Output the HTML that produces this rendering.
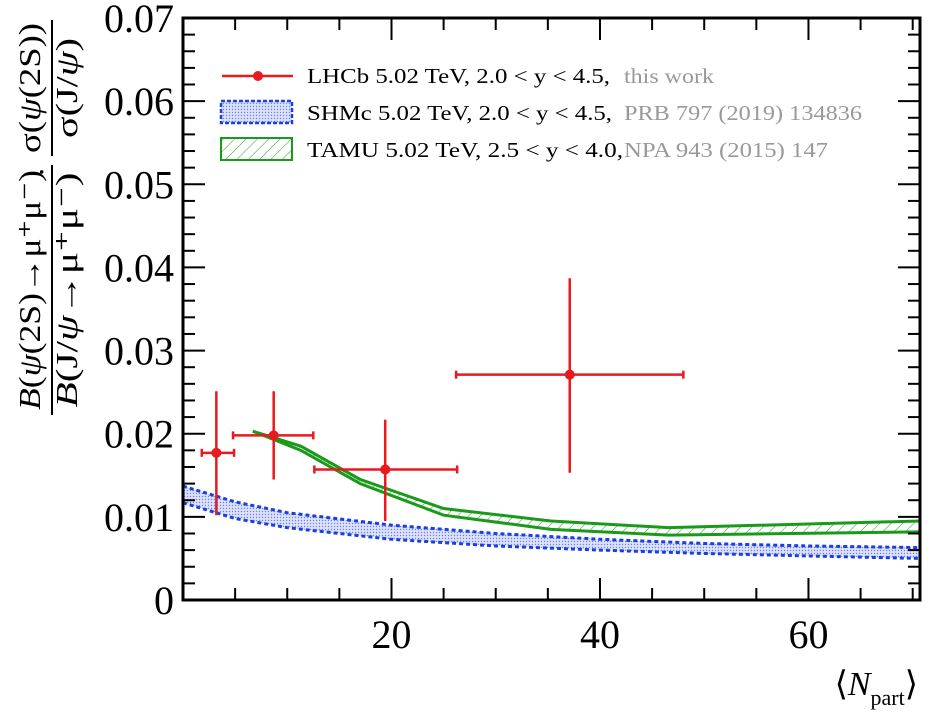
<!DOCTYPE html>
<html><head><meta charset="utf-8"><style>
html,body{margin:0;padding:0;background:#fff;}
svg{display:block;font-family:"Liberation Serif",serif;}
</style></head><body>
<svg id="chart" width="936" height="716" viewBox="0 0 936 716">
<defs>
<pattern id="dots" width="3" height="3" patternUnits="userSpaceOnUse"><rect width="3" height="3" fill="#dde3fb"/><circle cx="1.5" cy="1.5" r="0.7" fill="#6c80ee"/></pattern>
<pattern id="hatch" width="8" height="8" patternUnits="userSpaceOnUse" patternTransform="rotate(45)"><line x1="0" y1="0" x2="0" y2="8" stroke="#2a9a2a" stroke-width="1"/></pattern>
<clipPath id="plotclip"><rect x="183" y="18" width="737" height="582"/></clipPath>
</defs>
<g id="bands" clip-path="url(#plotclip)"></g>
<g id="marks"></g>
<g id="axes"></g>
<g font-size="21">
  <line x1="222" y1="76" x2="293" y2="76" stroke="#e8191f" stroke-width="2.5"/>
  <circle cx="258" cy="76" r="5" fill="#e8191f"/>
  <text x="307" y="83" textLength="303" lengthAdjust="spacingAndGlyphs">LHCb 5.02 TeV, 2.0 &lt; y &lt; 4.5,</text>
  <text x="624" y="83" textLength="90" lengthAdjust="spacingAndGlyphs" fill="#999">this work</text>
  <rect x="221" y="101" width="71" height="22" fill="url(#dots)" stroke="#1a3ee0" stroke-width="2.5" stroke-dasharray="4,2"/>
  <text x="307" y="120" textLength="305" lengthAdjust="spacingAndGlyphs">SHMc 5.02 TeV, 2.0 &lt; y &lt; 4.5,</text>
  <text x="624" y="120" textLength="238" lengthAdjust="spacingAndGlyphs" fill="#999">PRB 797 (2019) 134836</text>
  <rect x="221" y="138" width="71" height="22" fill="url(#hatch)" stroke="#1a9a1a" stroke-width="2"/>
  <text x="307" y="157" textLength="316" lengthAdjust="spacingAndGlyphs">TAMU 5.02 TeV, 2.5 &lt; y &lt; 4.0,</text>
  <text x="624" y="157" textLength="204" lengthAdjust="spacingAndGlyphs" fill="#999">NPA 943 (2015) 147</text>
</g>
<g font-size="31">
  <g transform="translate(52,290) rotate(-90)">
    <text x="0" y="-12" text-anchor="middle" textLength="240" lengthAdjust="spacingAndGlyphs"><tspan font-style="italic">B</tspan>(<tspan font-style="italic">ψ</tspan>(2S)→μ⁺μ⁻)</text>
    <line x1="-125" y1="0" x2="125" y2="0" stroke="#000" stroke-width="2"/>
    <text x="0" y="25" text-anchor="middle" textLength="235" lengthAdjust="spacingAndGlyphs"><tspan font-style="italic">B</tspan>(J/<tspan font-style="italic">ψ</tspan>→μ⁺μ⁻)</text>
  </g>
  <text x="52" y="172" text-anchor="middle" transform="rotate(-90,52,172)">·</text>
  <g transform="translate(52,88) rotate(-90)">
    <text x="0" y="-12" text-anchor="middle" textLength="130" lengthAdjust="spacingAndGlyphs">σ(<tspan font-style="italic">ψ</tspan>(2S))</text>
    <line x1="-68" y1="0" x2="68" y2="0" stroke="#000" stroke-width="2"/>
    <text x="0" y="25" text-anchor="middle" textLength="100" lengthAdjust="spacingAndGlyphs">σ(J/<tspan font-style="italic">ψ</tspan>)</text>
  </g>
</g>
<text x="918" y="695" text-anchor="end" font-size="34">⟨<tspan font-style="italic">N</tspan><tspan font-size="22" dy="10">part</tspan><tspan dy="-10">⟩</tspan></text>
</svg>
<script>
const xTicks=[20,40,60];
const yTicks=[0,0.01,0.02,0.03,0.04,0.05,0.06,0.07];
const yTickLabels=["0","0.01","0.02","0.03","0.04","0.05","0.06","0.07"];
const lhcbX=[3.2,8.7,19.4,37.1];
const lhcbY=[0.0177,0.0198,0.0157,0.0271];
const lhcbXLo=[1.8,4.8,12.6,26.2];
const lhcbXHi=[4.9,12.5,26.3,48.0];
const lhcbYLo=[0.0102,0.0145,0.0095,0.0153];
const lhcbYHi=[0.0251,0.0251,0.0217,0.0387];
const shmcX=[0,5,10,20,30,40,50,60,70.7];
const shmcUp=[0.0137,0.0118,0.0105,0.0090,0.0080,0.0073,0.0068,0.0065,0.0063];
const shmcLo=[0.0117,0.0098,0.0087,0.0073,0.0065,0.0060,0.0056,0.0053,0.0050];
const tamuX=[6.7,11.3,17,25,35.3,46.6,70.7];
const tamuUp=[0.0203,0.0185,0.0145,0.0110,0.0095,0.0087,0.0095];
const tamuLo=[0.0203,0.0180,0.0140,0.0102,0.0085,0.0078,0.0082];
const X0=183,X1=920,Y0=600,Y1=18,XMIN=0,XMAX=70.7,YMIN=0,YMAX=0.07;
const sx=v=>X0+(v-XMIN)/(XMAX-XMIN)*(X1-X0);
const sy=v=>Y0-(v-YMIN)/(YMAX-YMIN)*(Y0-Y1);
const NS='http://www.w3.org/2000/svg';
function mk(tag,attrs,parent){const e=document.createElementNS(NS,tag);for(const k in attrs)e.setAttribute(k,attrs[k]);parent.appendChild(e);return e;}
const bands=document.getElementById('bands'),marks=document.getElementById('marks'),axes=document.getElementById('axes');
function band(xs,up,lo){let p=xs.map((x,i)=>sx(x)+','+sy(up[i]));for(let i=xs.length-1;i>=0;i--)p.push(sx(xs[i])+','+sy(lo[i]));return p.join(' ');}
function line(xs,ys){return xs.map((x,i)=>sx(x)+','+sy(ys[i])).join(' ');}
let e=mk('polygon',{points:band(shmcX,shmcUp,shmcLo),fill:'url(#dots)',stroke:'none'},bands);


[shmcUp,shmcLo].forEach(a=>{const l=mk('polyline',{points:line(shmcX,a),fill:'none',stroke:'#1a3ee0','stroke-width':3,'stroke-dasharray':'4,3'},bands);

});
e=mk('polygon',{points:band(tamuX,tamuUp,tamuLo),fill:'url(#hatch)',stroke:'none'},bands);


[tamuUp,tamuLo].forEach(a=>{const l=mk('polyline',{points:line(tamuX,a),fill:'none',stroke:'#1a9a1a','stroke-width':3},bands);

});
lhcbX.forEach((x,i)=>{const g=mk('g',{stroke:'#e8191f','stroke-width':2.5},marks);


mk('line',{x1:sx(lhcbXLo[i]),x2:sx(lhcbXHi[i]),y1:sy(lhcbY[i]),y2:sy(lhcbY[i])},g);
mk('line',{x1:sx(x),x2:sx(x),y1:sy(lhcbYLo[i]),y2:sy(lhcbYHi[i])},g);
[lhcbXLo[i],lhcbXHi[i]].forEach(v=>mk('line',{x1:sx(v),x2:sx(v),y1:sy(lhcbY[i])-4,y2:sy(lhcbY[i])+4},g));
mk('circle',{cx:sx(x),cy:sy(lhcbY[i]),r:5,fill:'#e8191f',stroke:'none'},g);});
const fr=mk('rect',{x:X0,y:Y1,width:X1-X0,height:Y0-Y1,fill:'none',stroke:'#000','stroke-width':3},axes);


for(let v=5;v<XMAX;v+=5){const big=v%20===0;const L=big?22:12;
mk('line',{x1:sx(v),x2:sx(v),y1:Y0,y2:Y0-L,stroke:'#000','stroke-width':2},axes);
mk('line',{x1:sx(v),x2:sx(v),y1:Y1,y2:Y1+L,stroke:'#000','stroke-width':2},axes);}
xTicks.forEach(v=>{const t=mk('text',{x:sx(v),y:648,'text-anchor':'middle','font-size':40},axes);t.textContent=v;

});
for(let k=0;k<=35;k++){const v=k*0.002;const big=k%5===0;const L=big?22:12;
mk('line',{x1:X0,x2:X0+L,y1:sy(v),y2:sy(v),stroke:'#000','stroke-width':2},axes);
mk('line',{x1:X1,x2:X1-L,y1:sy(v),y2:sy(v),stroke:'#000','stroke-width':2},axes);}
yTicks.forEach((v,i)=>{const t=mk('text',{x:174,y:sy(v)+14,'text-anchor':'end','font-size':40},axes);t.textContent=yTickLabels[i];

});
</script>
</body></html>
